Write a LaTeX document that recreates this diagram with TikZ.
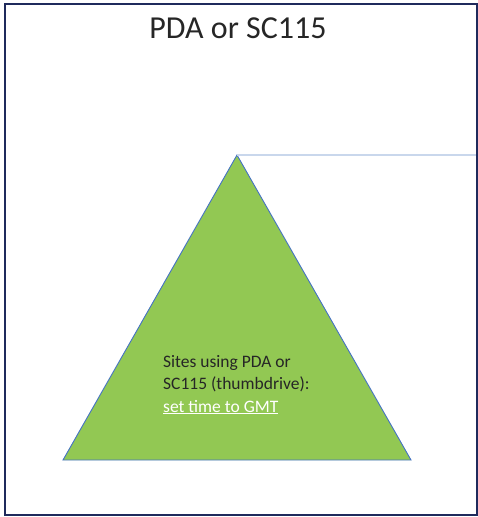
\documentclass[tikz,border=0pt]{standalone}
\usepackage{fontspec}
\setmainfont{Carlito}
\definecolor{framenavy}{HTML}{1F2A5C}
\definecolor{leafgreen}{HTML}{92C853}
\definecolor{edgeblue}{HTML}{4472C4}
\definecolor{paleblue}{HTML}{C9D7EC}
\definecolor{inkgray}{HTML}{262626}
\begin{document}
\begin{tikzpicture}[x=1pt,y=-1pt]
		\tikzset{frame/.style = {draw=framenavy,line width=2pt}}
		\tikzset{pyramid/.style = {fill=leafgreen,draw=edgeblue,line width=0.9pt,line join=miter}}
		\tikzset{label/.style = {text=inkgray,inner sep=0pt}}
		\useasboundingbox (0,0) rectangle (478,517);
		\draw[frame] (5,3.5) rectangle (477,515);
		\node[label,anchor=base,font=\fontsize{32}{38}\selectfont] (title) at (238,38) {PDA or SC115};
		\coordinate (apex) at (237,155);
		\coordinate (left) at (63,460);
		\coordinate (right) at (411,460);
		\coordinate (rim) at (476,155);
		\draw[pyramid] (apex) -- (right) -- (left) -- cycle;
		\draw[paleblue,line width=1.5pt] (apex) -- (rim);
		\node[label,anchor=base west,align=left,font=\fontsize{17.5}{22.5}\selectfont] (note) at (163,412)
			{Sites using PDA or\\SC115 (thumbdrive):\\{\color{white}\underline{set time to GMT}}};
	\end{tikzpicture}
\end{document}
